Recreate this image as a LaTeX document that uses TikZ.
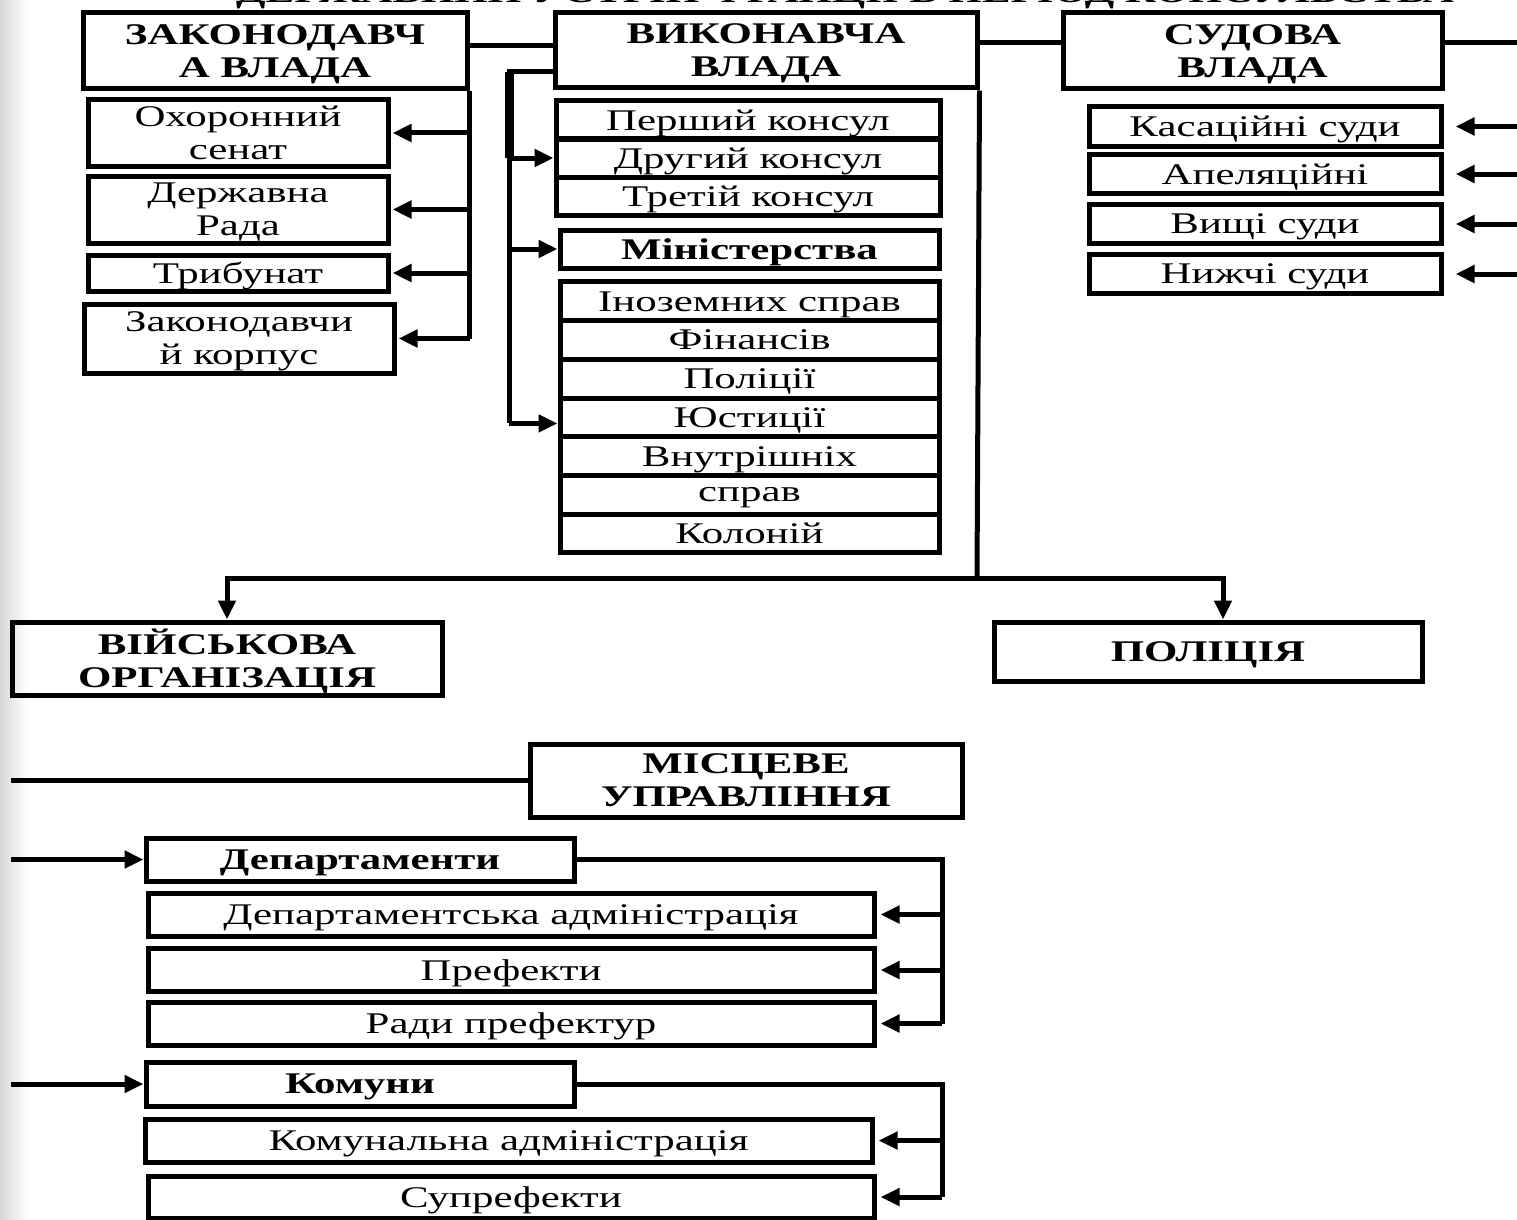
\documentclass[tikz,border=0pt]{standalone}
\usepackage{fontspec}
\setmainfont{Liberation Serif}[FakeStretch=1.43]
\usetikzlibrary{arrows.meta, calc}

\begin{document}
\begin{tikzpicture}[x=1pt, y=-1pt,
  box/.style={draw, line width=5pt, inner sep=0pt, align=center, text depth=0pt,
    font=\fontsize{30}{33}\selectfont},
  hbox/.style={box, font=\bfseries\fontsize{30}{33}\selectfont},
  link/.style={line width=5pt},
  arr/.style={link, -{Triangle[length=19pt, width=17pt]}}]
  \useasboundingbox (0,0) rectangle (1517,1220);
  \shade[left color=black!15, right color=white] (0,0) rectangle (28,1220);

  % title, cut off by the top of the page
  \node[anchor=base, font=\bfseries\fontsize{30}{30}\selectfont] (title) at (845,3)
    {ДЕРЖАВНИЙ УСТРІЙ ФРАНЦІЇ В ПЕРІОД КОНСУЛЬСТВА};

  % three branches
  \node[hbox, minimum width=384pt, minimum height=76pt] (leg) at (275,51) {ЗАКОНОДАВЧ\\А ВЛАДА};
  \node[hbox, minimum width=422pt, minimum height=75pt] (exe) at (766,50.5) {ВИКОНАВЧА\\ВЛАДА};
  \node[hbox, minimum width=379pt, minimum height=76pt] (jud) at (1252.5,51) {СУДОВА\\ВЛАДА};
  \coordinate (cr) at (1530,0);
  \draw[link] ([yshift=5pt]leg.east) -- ([yshift=5pt]leg.east -| exe.west);
  \draw[link] ([yshift=8pt]exe.east) -- ([yshift=8pt]exe.east -| jud.west);
  \draw[link] ([yshift=8pt]jud.east) -- ([yshift=8pt]jud.east -| cr);

  % legislative
  \node[box, minimum width=300pt, minimum height=66pt] (sen) at (238,133) {Охоронний\\сенат};
  \node[box, minimum width=300pt, minimum height=67pt] (rada) at (238,209.5) {Державна\\Рада};
  \node[box, minimum width=300pt, minimum height=36pt] (trib) at (238,273) {Трибунат};
  \node[box, minimum width=310pt, minimum height=69pt] (korp) at (239,338.5) {Законодавчи\\й корпус};
  \draw[link] (leg.south east) -- (leg.south east |- korp);
  \draw[arr, shorten >=2pt] (leg.south east |- sen) -- (sen.east);
  \draw[arr, shorten >=2pt] (leg.south east |- rada) -- (rada.east);
  \draw[arr, shorten >=2pt] (leg.south east |- trib) -- (trib.east);
  \draw[arr, shorten >=2pt] (leg.south east |- korp) -- (korp.east);

  % executive
  \node[box, minimum width=384pt, minimum height=38pt] (c1) at (748,120) {Перший консул};
  \node[box, minimum width=384pt, minimum height=38pt] (c2) at (748,158) {Другий консул};
  \node[box, minimum width=384pt, minimum height=38pt] (c3) at (748,196) {Третій консул};
  \node[hbox, minimum width=379pt, minimum height=38pt] (min) at (749.5,249) {Міністерства};
  \node[box, minimum width=379pt, minimum height=38.7pt] (m1) at (749.5,301.3) {Іноземних справ};
  \node[box, minimum width=379pt, minimum height=38.7pt] (m2) at (749.5,340) {Фінансів};
  \node[box, minimum width=379pt, minimum height=38.7pt] (m3) at (749.5,378.7) {Поліції};
  \node[box, minimum width=379pt, minimum height=38.7pt] (m4) at (749.5,417.4) {Юстиції};
  \node[box, minimum width=379pt, minimum height=38.7pt] (m5) at (749.5,456.1) {Внутрішніх};
  \node[box, minimum width=379pt, minimum height=38.7pt] (m6) at (749.5,494.8) {справ};
  \node[box, minimum width=379pt, minimum height=38.7pt] (m7) at (749.5,533.5) {Колоній};
  \coordinate (eb) at (509,72);
  \coordinate (ja) at ([yshift=-6pt]m4.west);
  \draw[link] (eb -| exe.west) -- (eb) -- (eb |- ja);
  \draw[line width=9pt] (eb) -- (eb |- c2);
  \draw[arr] (eb |- c2) -- (c2.west);
  \draw[arr] (eb |- min) -- (min.west);
  \draw[arr] (eb |- ja) -- (ja);

  % army and police
  \node[hbox, minimum width=430pt, minimum height=73pt] (mil) at (227,658.5) {ВІЙСЬКОВА\\ОРГАНІЗАЦІЯ};
  \node[hbox, minimum width=428pt, minimum height=59pt] (pol) at (1208,651.5) {ПОЛІЦІЯ};
  \coordinate (hub) at (977,578);
  \draw[link] (exe.south east) -- (hub);
  \draw[arr] (hub) -| (mil.north);
  \draw[arr] (hub) -| ([xshift=15pt]pol.north);

  % judicial
  \node[box, minimum width=352pt, minimum height=39pt] (kas) at (1265,126.5) {Касаційні суди};
  \node[box, minimum width=352pt, minimum height=39pt] (ape) at (1265,174) {Апеляційні};
  \node[box, minimum width=352pt, minimum height=39pt] (vys) at (1265,224) {Вищі суди};
  \node[box, minimum width=352pt, minimum height=39pt] (nyz) at (1265,274) {Нижчі суди};
  \draw[arr, shorten >=12pt] (cr |- kas) -- (kas.east);
  \draw[arr, shorten >=12pt] (cr |- ape) -- (ape.east);
  \draw[arr, shorten >=12pt] (cr |- vys) -- (vys.east);
  \draw[arr, shorten >=12pt] (cr |- nyz) -- (nyz.east);

  % local government
  \node[hbox, minimum width=432pt, minimum height=73pt] (loc) at (746,780.5) {МІСЦЕВЕ\\УПРАВЛІННЯ};
  \node[hbox, minimum width=428pt, minimum height=43pt] (dep) at (360,859.5) {Департаменти};
  \node[box, minimum width=726pt, minimum height=43pt] (da) at (511,914.5) {Департаментська адміністрація};
  \node[box, minimum width=726pt, minimum height=43pt] (pref) at (511,970) {Префекти};
  \node[box, minimum width=726pt, minimum height=43pt] (rp) at (511,1023.5) {Ради префектур};
  \node[hbox, minimum width=428pt, minimum height=44pt] (kom) at (360,1084) {Комуни};
  \node[box, minimum width=727pt, minimum height=43pt] (ka) at (508.5,1140.5) {Комунальна адміністрація};
  \node[box, minimum width=726pt, minimum height=42pt] (sup) at (511,1197) {Супрефекти};
  \coordinate (lf) at (11,0);
  \coordinate (dt) at (942,0);
  \draw[link] (lf |- loc) -- (loc.west);
  \draw[arr] (lf |- dep) -- (dep.west);
  \draw[arr] (lf |- kom) -- (kom.west);
  \draw[link] (dep.east) -| (dt |- rp);
  \draw[arr, shorten >=4pt] (dt |- da) -- (da.east);
  \draw[arr, shorten >=4pt] (dt |- pref) -- (pref.east);
  \draw[arr, shorten >=4pt] (dt |- rp) -- (rp.east);
  \draw[link] (kom.east) -| (dt |- sup);
  \draw[arr, shorten >=4pt] (dt |- ka) -- (ka.east);
  \draw[arr, shorten >=4pt] (dt |- sup) -- (sup.east);
\end{tikzpicture}
\end{document}
